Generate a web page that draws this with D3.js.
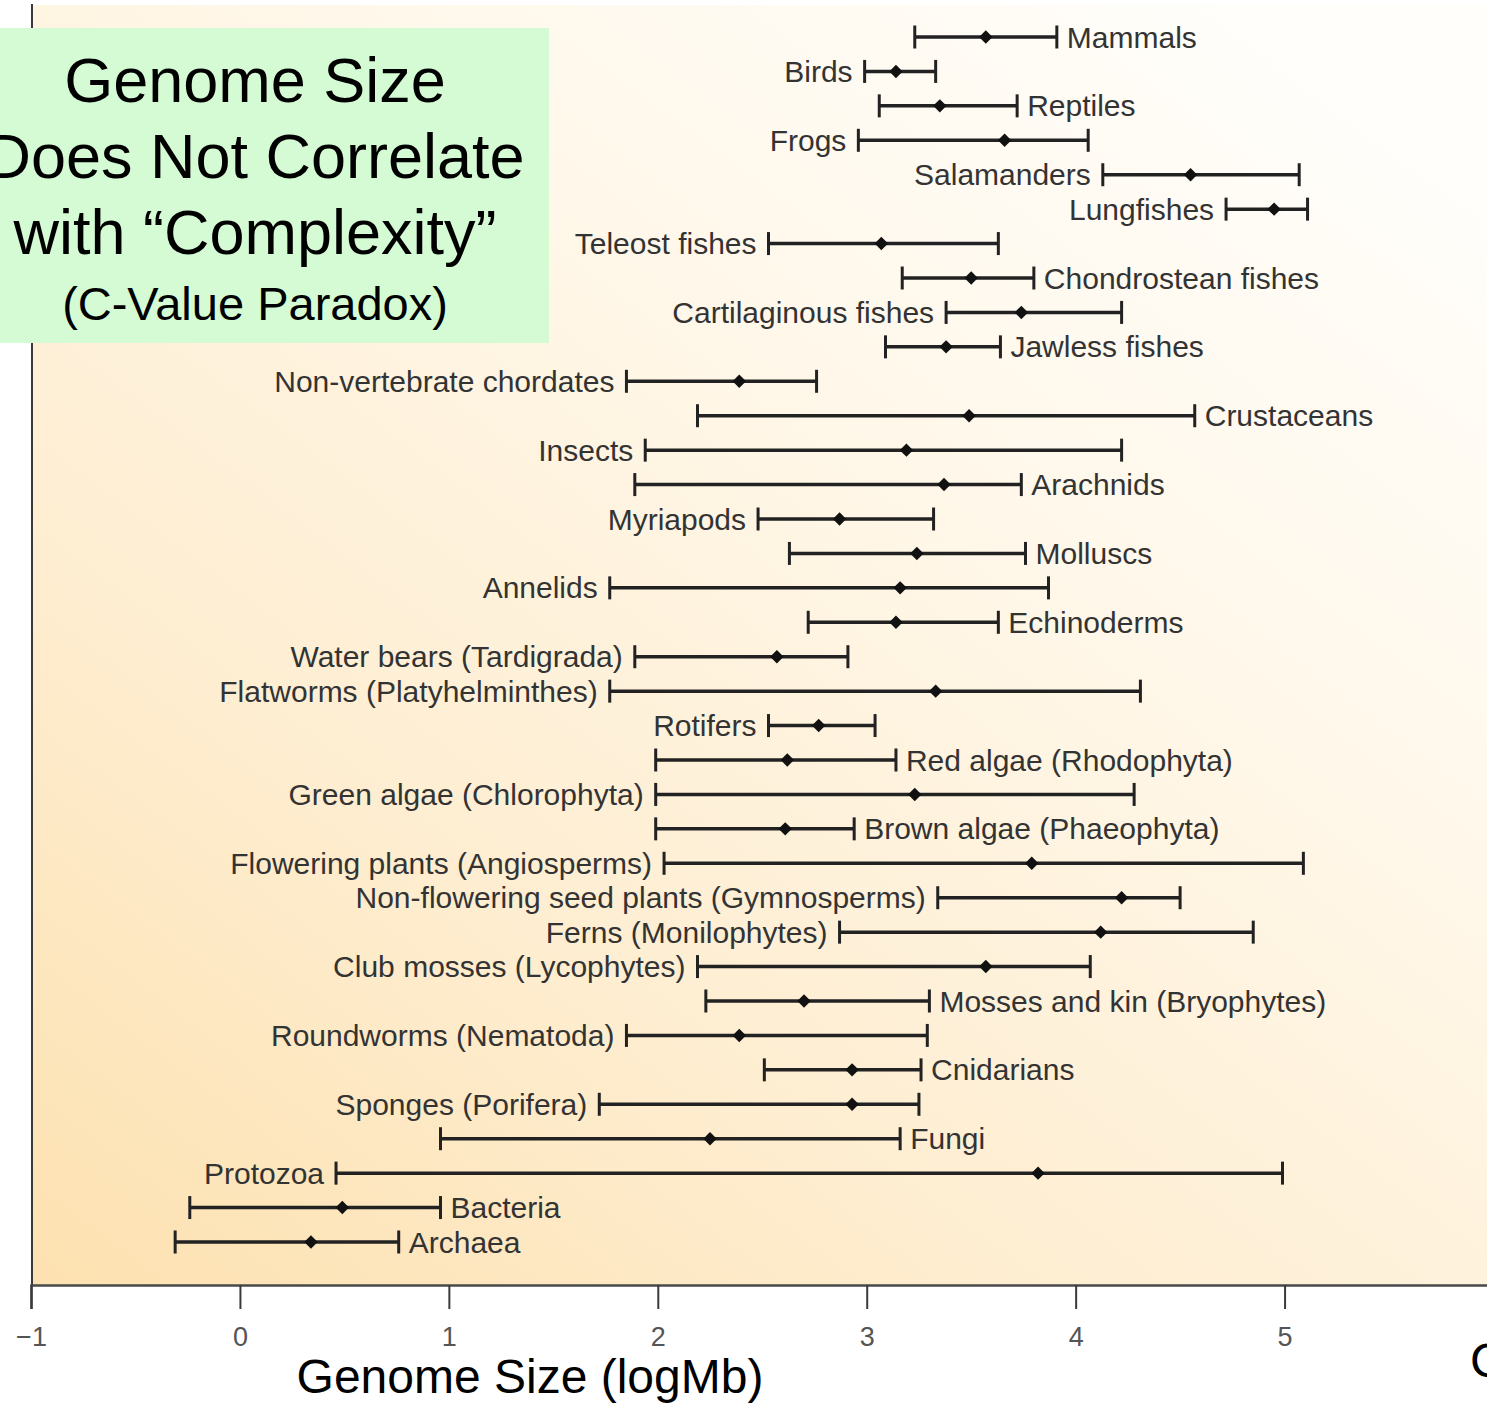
<!DOCTYPE html>
<html>
<head>
<meta charset="utf-8">
<script src="https://cdn.jsdelivr.net/npm/d3@7"></script>
<style>
  html, body { margin: 0; padding: 0; background: #ffffff; overflow: hidden; }
  svg { display: block; }
</style>
</head>
<body>
<svg id="chart" width="1487" height="1403"></svg>
<script>
// ---- data ----
const categories = [
  "Mammals", "Birds", "Reptiles", "Frogs", "Salamanders", "Lungfishes",
  "Teleost fishes", "Chondrostean fishes", "Cartilaginous fishes", "Jawless fishes",
  "Non-vertebrate chordates", "Crustaceans", "Insects", "Arachnids", "Myriapods",
  "Molluscs", "Annelids", "Echinoderms", "Water bears (Tardigrada)",
  "Flatworms (Platyhelminthes)", "Rotifers", "Red algae (Rhodophyta)",
  "Green algae (Chlorophyta)", "Brown algae (Phaeophyta)",
  "Flowering plants (Angiosperms)", "Non-flowering seed plants (Gymnosperms)",
  "Ferns (Monilophytes)", "Club mosses (Lycophytes)", "Mosses and kin (Bryophytes)",
  "Roundworms (Nematoda)", "Cnidarians", "Sponges (Porifera)", "Fungi",
  "Protozoa", "Bacteria", "Archaea"
];
const lowValues = [
  3.23, 2.99, 3.06, 2.96, 4.13, 4.72,
  2.53, 3.17, 3.38, 3.09,
  1.85, 2.19, 1.94, 1.89, 2.48,
  2.63, 1.77, 2.72, 1.89,
  1.77, 2.53, 1.99,
  1.99, 1.99,
  2.03, 3.34,
  2.87, 2.19, 2.23,
  1.85, 2.51, 1.72, 0.96,
  0.46, -0.24, -0.31
];
const midValues = [
  3.57, 3.14, 3.35, 3.66, 4.55, 4.95,
  3.07, 3.50, 3.74, 3.38,
  2.39, 3.49, 3.19, 3.37, 2.87,
  3.24, 3.16, 3.14, 2.57,
  3.33, 2.77, 2.62,
  3.23, 2.61,
  3.79, 4.22,
  4.12, 3.57, 2.70,
  2.39, 2.93, 2.93, 2.25,
  3.82, 0.49, 0.34
];
const highValues = [
  3.91, 3.33, 3.72, 4.06, 5.07, 5.11,
  3.63, 3.80, 4.22, 3.64,
  2.76, 4.57, 4.22, 3.74, 3.32,
  3.76, 3.87, 3.63, 2.91,
  4.31, 3.04, 3.14,
  4.28, 2.94,
  5.09, 4.50,
  4.85, 4.07, 3.30,
  3.29, 3.26, 3.25, 3.16,
  4.99, 0.96, 0.76
];
const labelSide = [
  "R", "L", "R", "L", "L", "L",
  "L", "R", "L", "R",
  "L", "R", "L", "R", "L",
  "R", "L", "R", "L",
  "L", "L", "R",
  "L", "R",
  "L", "L",
  "L", "L", "R",
  "L", "R", "L", "R",
  "L", "R", "R"
];
const tickValues = [-1, 0, 1, 2, 3, 4, 5, 6];
const tickLabels = ["\u22121", "0", "1", "2", "3", "4", "5", "6"];
const axisTitle = "Genome Size (logMb)";
const titleLines = ["Genome Size", "Does Not Correlate", "with \u201CComplexity\u201D"];
const subtitle = "(C-Value Paradox)";

const rows = categories.map((c, i) => ({
  name: c, lo: lowValues[i], mid: midValues[i], hi: highValues[i], side: labelSide[i]
}));

// ---- layout ----
const svg = d3.select("#chart");
const plotLeft = 32, plotTop = 5, plotBottom = 1285, plotRight = 1487;

const x = d3.scaleLinear().domain([-1, 6]).range([31, 1493.5]);
const y = d3.scalePoint().domain(categories).range([37, 1242]);

// background gradient
const defs = svg.append("defs");
const grad = defs.append("linearGradient")
  .attr("id", "bg").attr("x1", "0").attr("y1", "1").attr("x2", "0.85").attr("y2", "0");
grad.append("stop").attr("offset", "0").attr("stop-color", "#fde1b0");
grad.append("stop").attr("offset", "0.35").attr("stop-color", "#feeed2");
grad.append("stop").attr("offset", "0.7").attr("stop-color", "#fff8eb");
grad.append("stop").attr("offset", "1").attr("stop-color", "#fffefb");

svg.append("rect")
  .attr("x", plotLeft).attr("y", plotTop)
  .attr("width", plotRight - plotLeft).attr("height", plotBottom - plotTop)
  .attr("fill", "url(#bg)");

// left axis line
svg.append("line")
  .attr("x1", plotLeft).attr("x2", plotLeft)
  .attr("y1", 4).attr("y2", plotBottom)
  .attr("stroke", "#3a3a3a").attr("stroke-width", 2);

// bottom axis
const xAxis = d3.axisBottom(x)
  .tickValues(tickValues)
  .tickFormat((d, i) => tickLabels[i])
  .tickSize(24).tickPadding(18);
const gx = svg.append("g").attr("transform", `translate(0,${plotBottom})`).call(xAxis);
gx.select(".domain").attr("stroke", "#4a4a4a").attr("stroke-width", 2.5);
gx.selectAll(".tick line").attr("stroke", "#3a3a3a").attr("stroke-width", 2);
gx.selectAll(".tick text")
  .attr("fill", "#555").attr("font-size", 27)
  .attr("font-family", "'Liberation Sans', Arial, Helvetica, sans-serif");

// error bars
const g = svg.append("g");
const barColor = "#222";
const capH = 11.5;
const rowG = g.selectAll("g.row").data(rows).join("g").attr("class", "row");

rowG.append("line")
  .attr("x1", d => x(d.lo)).attr("x2", d => x(d.hi))
  .attr("y1", d => y(d.name)).attr("y2", d => y(d.name))
  .attr("stroke", barColor).attr("stroke-width", 3.5);
rowG.append("line")
  .attr("x1", d => x(d.lo)).attr("x2", d => x(d.lo))
  .attr("y1", d => y(d.name) - capH).attr("y2", d => y(d.name) + capH)
  .attr("stroke", barColor).attr("stroke-width", 3);
rowG.append("line")
  .attr("x1", d => x(d.hi)).attr("x2", d => x(d.hi))
  .attr("y1", d => y(d.name) - capH).attr("y2", d => y(d.name) + capH)
  .attr("stroke", barColor).attr("stroke-width", 3);

const diamond = d3.symbol().type(d3.symbolSquare).size(90);
rowG.append("path")
  .attr("d", diamond)
  .attr("transform", d => `translate(${x(d.mid)},${y(d.name)}) rotate(45)`)
  .attr("fill", "#111");

rowG.append("text")
  .attr("x", d => d.side === "R" ? x(d.hi) + 10 : x(d.lo) - 12)
  .attr("y", d => y(d.name) + 10.5)
  .attr("text-anchor", d => d.side === "R" ? "start" : "end")
  .attr("font-family", "'Liberation Sans', Arial, Helvetica, sans-serif")
  .attr("font-size", 30)
  .attr("fill", "#333")
  .text(d => d.name);

// axis title
svg.append("text")
  .attr("x", 530).attr("y", 1393)
  .attr("text-anchor", "middle")
  .attr("font-family", "'Liberation Sans', Arial, Helvetica, sans-serif")
  .attr("font-size", 48).attr("fill", "#000")
  .text(axisTitle);

// text cut off at the right edge of the slide
svg.append("text")
  .attr("x", 1470).attr("y", 1377)
  .attr("font-family", "'Liberation Sans', Arial, Helvetica, sans-serif")
  .attr("font-size", 48).attr("fill", "#000")
  .text("C");

// title box
svg.append("rect")
  .attr("x", 0).attr("y", 28).attr("width", 549).attr("height", 315)
  .attr("fill", "#d4fbd4");
const tg = svg.append("g")
  .attr("font-family", "'Liberation Sans', Arial, Helvetica, sans-serif")
  .attr("fill", "#000").attr("text-anchor", "middle");
tg.selectAll("text.tl").data(titleLines).join("text")
  .attr("class", "tl")
  .attr("x", 255).attr("y", (d, i) => 102 + i * 76)
  .attr("font-size", 63)
  .text(d => d);
tg.append("text")
  .attr("x", 255).attr("y", 320)
  .attr("font-size", 47)
  .text(subtitle);
</script>
</body>
</html>
